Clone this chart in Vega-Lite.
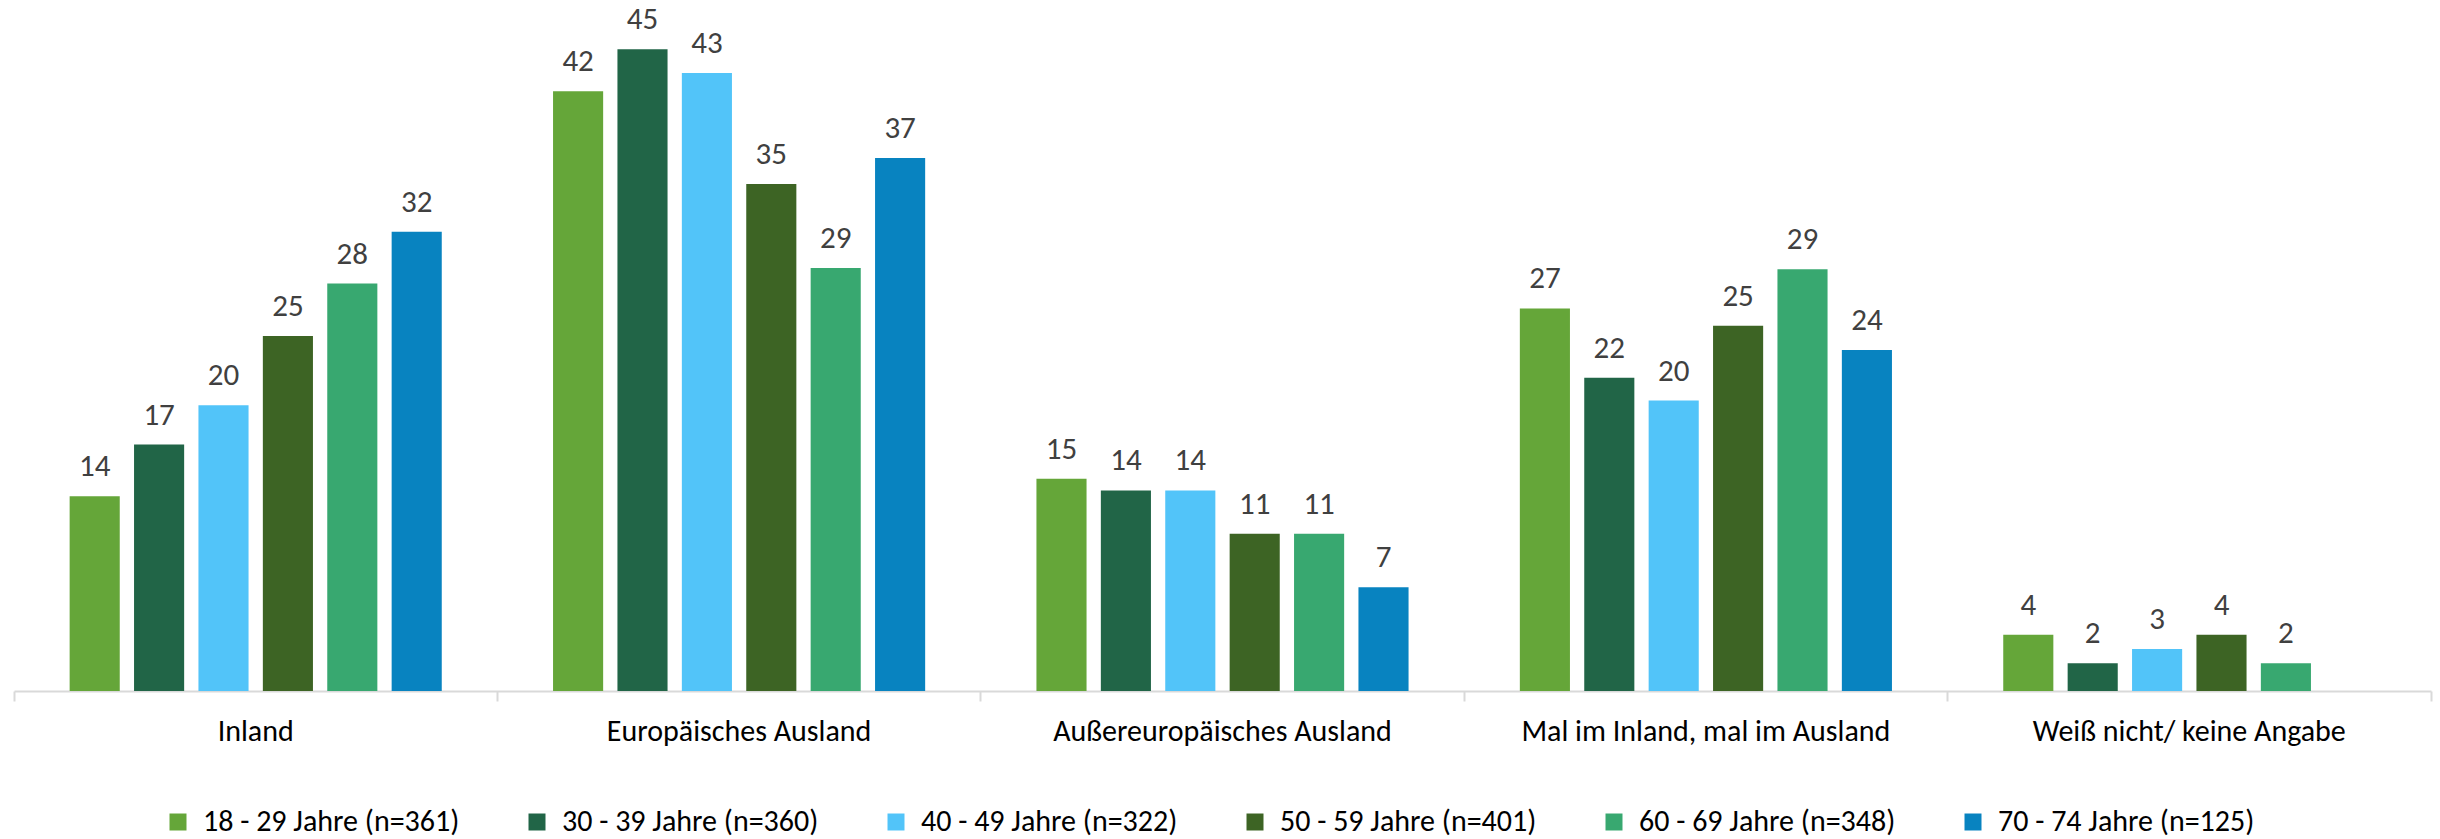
{
  "$schema": "https://vega.github.io/schema/vega-lite/v6.json",
  "width": 2417,
  "height": 691,
  "autosize": {"type": "none"},
  "padding": {"left": 14, "top": 0, "right": 9, "bottom": 148},
  "config": {"view": {"stroke": null}, "font": "Carlito, Lato, sans-serif"},
  "data": {
    "values": [
      {"region": "Inland", "group": "18 - 29 Jahre (n=361)", "value": 13.54},
      {"region": "Inland", "group": "30 - 39 Jahre (n=360)", "value": 17.14},
      {"region": "Inland", "group": "40 - 49 Jahre (n=322)", "value": 19.87},
      {"region": "Inland", "group": "50 - 59 Jahre (n=401)", "value": 24.69},
      {"region": "Inland", "group": "60 - 69 Jahre (n=348)", "value": 28.33},
      {"region": "Inland", "group": "70 - 74 Jahre (n=125)", "value": 31.93},
      {"region": "Europäisches Ausland", "group": "18 - 29 Jahre (n=361)", "value": 41.7},
      {"region": "Europäisches Ausland", "group": "30 - 39 Jahre (n=360)", "value": 44.62},
      {"region": "Europäisches Ausland", "group": "40 - 49 Jahre (n=322)", "value": 42.97},
      {"region": "Europäisches Ausland", "group": "50 - 59 Jahre (n=401)", "value": 35.26},
      {"region": "Europäisches Ausland", "group": "60 - 69 Jahre (n=348)", "value": 29.42},
      {"region": "Europäisches Ausland", "group": "70 - 74 Jahre (n=125)", "value": 37.07},
      {"region": "Außereuropäisches Ausland", "group": "18 - 29 Jahre (n=361)", "value": 14.76},
      {"region": "Außereuropäisches Ausland", "group": "30 - 39 Jahre (n=360)", "value": 13.95},
      {"region": "Außereuropäisches Ausland", "group": "40 - 49 Jahre (n=322)", "value": 13.95},
      {"region": "Außereuropäisches Ausland", "group": "50 - 59 Jahre (n=401)", "value": 10.94},
      {"region": "Außereuropäisches Ausland", "group": "60 - 69 Jahre (n=348)", "value": 10.94},
      {"region": "Außereuropäisches Ausland", "group": "70 - 74 Jahre (n=125)", "value": 7.21},
      {"region": "Mal im Inland, mal im Ausland", "group": "18 - 29 Jahre (n=361)", "value": 26.6},
      {"region": "Mal im Inland, mal im Ausland", "group": "30 - 39 Jahre (n=360)", "value": 21.78},
      {"region": "Mal im Inland, mal im Ausland", "group": "40 - 49 Jahre (n=322)", "value": 20.2},
      {"region": "Mal im Inland, mal im Ausland", "group": "50 - 59 Jahre (n=401)", "value": 25.4},
      {"region": "Mal im Inland, mal im Ausland", "group": "60 - 69 Jahre (n=348)", "value": 29.33},
      {"region": "Mal im Inland, mal im Ausland", "group": "70 - 74 Jahre (n=125)", "value": 23.71},
      {"region": "Weiß nicht/ keine Angabe", "group": "18 - 29 Jahre (n=361)", "value": 3.92},
      {"region": "Weiß nicht/ keine Angabe", "group": "30 - 39 Jahre (n=360)", "value": 1.93},
      {"region": "Weiß nicht/ keine Angabe", "group": "40 - 49 Jahre (n=322)", "value": 2.92},
      {"region": "Weiß nicht/ keine Angabe", "group": "50 - 59 Jahre (n=401)", "value": 3.92},
      {"region": "Weiß nicht/ keine Angabe", "group": "60 - 69 Jahre (n=348)", "value": 1.93}
    ]
  },
  "encoding": {
    "x": {
      "field": "region",
      "type": "nominal",
      "sort": ["Inland", "Europäisches Ausland", "Außereuropäisches Ausland", "Mal im Inland, mal im Ausland", "Weiß nicht/ keine Angabe"],
      "scale": {"paddingInner": 0, "paddingOuter": 0},
      "axis": {
        "title": null,
        "labelAngle": 0,
        "bandPosition": 1,
        "tickExtra": true,
        "domainColor": "#d9d9d9",
        "domainWidth": 2,
        "tickColor": "#d9d9d9",
        "tickWidth": 2,
        "tickSize": 10,
        "labelFontSize": 30,
        "labelColor": "#000000",
        "labelPadding": 15,
        "labelLimit": 0
      }
    },
    "xOffset": {
      "field": "group",
      "type": "nominal",
      "sort": ["18 - 29 Jahre (n=361)", "30 - 39 Jahre (n=360)", "40 - 49 Jahre (n=322)", "50 - 59 Jahre (n=401)", "60 - 69 Jahre (n=348)", "70 - 74 Jahre (n=125)"],
      "scale": {"paddingInner": 0.222, "paddingOuter": 0.864}
    },
    "y": {
      "field": "value",
      "type": "quantitative",
      "scale": {"domain": [0, 48.05], "nice": false, "zero": true},
      "axis": null
    }
  },
  "layer": [
    {
      "mark": {"type": "bar"},
      "encoding": {
        "color": {
          "field": "group",
          "type": "nominal",
          "scale": {
            "domain": ["18 - 29 Jahre (n=361)", "30 - 39 Jahre (n=360)", "40 - 49 Jahre (n=322)", "50 - 59 Jahre (n=401)", "60 - 69 Jahre (n=348)", "70 - 74 Jahre (n=125)"],
            "range": ["#65a639", "#216547", "#52c4f9", "#3d6424", "#38a870", "#0883c0"]
          },
          "legend": {
            "orient": "none",
            "legendX": 149,
            "legendY": 807,
            "direction": "horizontal",
            "columns": 6,
            "title": null,
            "symbolType": "square",
            "symbolSize": 289,
            "symbolStrokeWidth": 0,
            "labelFontSize": 30,
            "labelColor": "#000000",
            "labelOffset": 10,
            "columnPadding": 62,
            "padding": 0,
            "labelLimit": 0
          }
        }
      }
    },
    {
      "mark": {"type": "text", "baseline": "alphabetic", "dy": -20, "fontSize": 31, "color": "#404040"},
      "encoding": {"text": {"field": "value", "type": "quantitative", "format": ".0f"}}
    }
  ]
}
